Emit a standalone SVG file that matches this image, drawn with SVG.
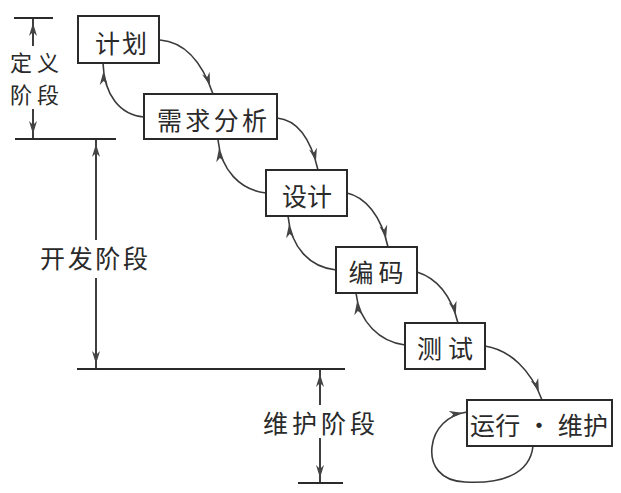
<svg xmlns="http://www.w3.org/2000/svg" width="621" height="493" viewBox="0 0 621 493">
<defs>
<style>
.box{fill:#fff;stroke:#2a2a2a;stroke-width:2}
.lbl{font-family:"Noto Sans CJK SC","Noto Sans",sans-serif;font-size:25px;fill:#2a2a2a;text-anchor:middle;dominant-baseline:central}
.con{fill:none;stroke:#3a3a3a;stroke-width:1.6}
.dim{fill:none;stroke:#2a2a2a;stroke-width:1.8}
</style>
<marker id="arr" markerUnits="userSpaceOnUse" markerWidth="26" markerHeight="10" viewBox="0 0 26 10" refX="22" refY="5" orient="auto">
<path d="M0,1 L13,5 L0,9 L4,5 Z" fill="#444"/>
</marker>
<marker id="darr" markerUnits="userSpaceOnUse" markerWidth="22" markerHeight="10" viewBox="0 0 22 10" refX="18" refY="5" orient="auto">
<path d="M0,1 L13,5 L0,9 L4,5 Z" fill="#444"/>
</marker>
</defs>
<rect width="621" height="493" fill="#fff"/>

<g id="connectors">
<path class="con" d="M160,40 C185,42 202,62 213,94" marker-end="url(#arr)"/>
<path class="con" d="M144,117 C120,115 104,95 103,63" marker-end="url(#arr)"/>
<path class="con" d="M277,118 C298,120 311,140 318,170" marker-end="url(#arr)"/>
<path class="con" d="M266,193 C240,190 221,170 218,140" marker-end="url(#arr)"/>
<path class="con" d="M347,193 C365,197 381,215 388,247" marker-end="url(#arr)"/>
<path class="con" d="M336,270 C310,267 291,248 288,216" marker-end="url(#arr)"/>
<path class="con" d="M417,272 C436,278 451,295 458,323" marker-end="url(#arr)"/>
<path class="con" d="M405,345 C380,342 359,322 356,293" marker-end="url(#arr)"/>
<path class="con" d="M485,346 C510,350 531,370 542,400" marker-end="url(#arr)"/>
<path class="con" d="M533,446 C530,475 500,484 465,482 C440,481 430,465 432,447 C434,428 448,415 467,412" marker-end="url(#darr)"/>
</g>

<g id="dimensions">
<line class="dim" x1="14" y1="18" x2="53" y2="18"/>
<line class="dim" x1="15" y1="139" x2="116" y2="139"/>
<line class="dim" x1="77" y1="369" x2="345" y2="369"/>
<line class="dim" x1="298" y1="483" x2="343" y2="483"/>
<line class="dim" x1="33" y1="46" x2="33" y2="18" marker-end="url(#darr)"/>
<line class="dim" x1="33" y1="109" x2="33" y2="139" marker-end="url(#darr)"/>
<line class="dim" x1="96" y1="240" x2="96" y2="139" marker-end="url(#darr)"/>
<line class="dim" x1="96" y1="278" x2="96" y2="369" marker-end="url(#darr)"/>
<line class="dim" x1="320" y1="405" x2="320" y2="369" marker-end="url(#darr)"/>
<line class="dim" x1="320" y1="438" x2="320" y2="483" marker-end="url(#darr)"/>
<text class="lbl" style="font-size:22px" letter-spacing="5"><tspan x="37" y="61">定义</tspan><tspan x="37" y="93">阶段</tspan></text>
<text class="lbl" x="94" y="257" textLength="108" lengthAdjust="spacing">开发阶段</text>
<text class="lbl" x="319" y="422" textLength="112" lengthAdjust="spacing">维护阶段</text>
</g>

<g id="n1"><rect class="box" x="78" y="16" width="81" height="47"/><text class="lbl" x="121" y="42" textLength="52" lengthAdjust="spacing">计划</text></g>
<g id="n2"><rect class="box" x="144" y="94" width="133" height="45"/><text class="lbl" x="212" y="119" textLength="110" lengthAdjust="spacing">需求分析</text></g>
<g id="n3"><rect class="box" x="266" y="170" width="81" height="46"/><text class="lbl" x="307" y="195" textLength="50" lengthAdjust="spacing">设计</text></g>
<g id="n4"><rect class="box" x="336" y="247" width="81" height="46"/><text class="lbl" x="376" y="271" textLength="55" lengthAdjust="spacing">编码</text></g>
<g id="n5"><rect class="box" x="405" y="323" width="80" height="46"/><text class="lbl" x="445" y="347" textLength="56" lengthAdjust="spacing">测试</text></g>
<g id="n6"><rect class="box" x="467" y="400" width="145" height="46"/><text class="lbl" x="539" y="424" textLength="138" lengthAdjust="spacing">运行 · 维护</text></g>
</svg>
